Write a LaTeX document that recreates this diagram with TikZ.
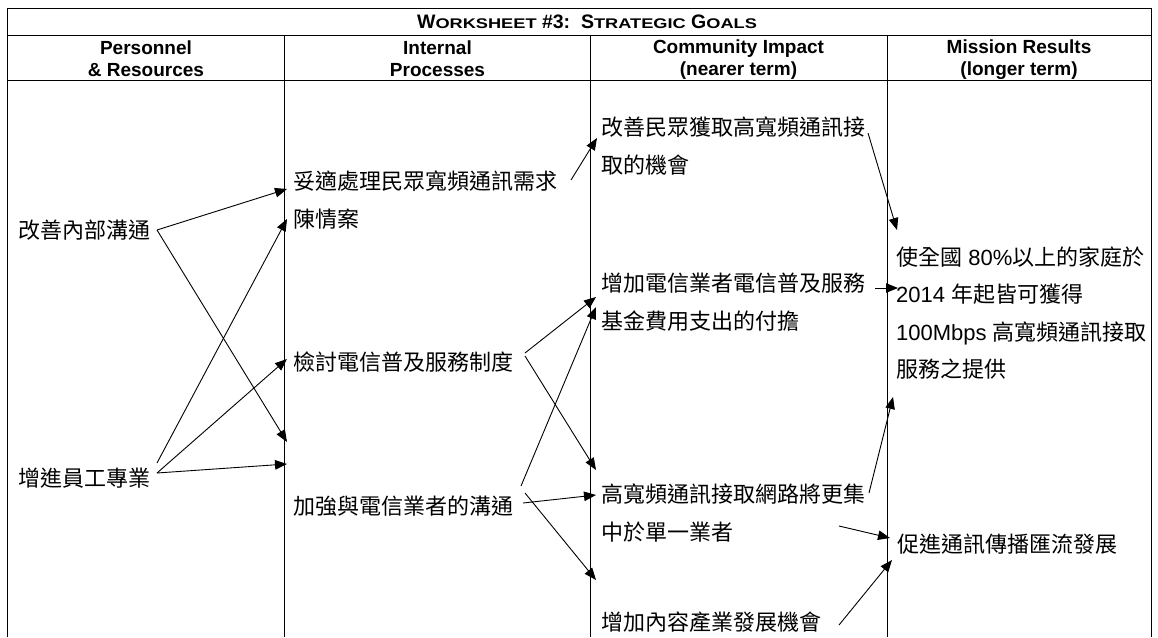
\documentclass[tikz,border=0pt]{standalone}
\usepackage{fontspec}
\setmainfont{Noto Sans CJK TC}
\newfontfamily\latin{Liberation Sans}
\newfontface\capsface[FakeStretch=1.3]{Liberation Sans Bold}
\usetikzlibrary{arrows.meta}
\newcommand{\smallcap}[1]{{\capsface\mdseries\fontsize{14}{14}\selectfont #1}}
\tikzstyle{rule} = [draw, line width=1pt]
\tikzstyle{head} = [align=center, inner sep=0pt,
                 font=\latin\bfseries\fontsize{19}{22}\selectfont]
\tikzstyle{goal} = [anchor=west, align=left, inner sep=0pt,
                 font=\fontsize{22}{38}\selectfont]
\tikzstyle{link} = [draw, line width=0.9pt, -{Triangle[length=12pt,width=9.5pt]}]

\begin{document}
\begin{tikzpicture}[x=1pt, y=-1pt]
\useasboundingbox (0,0) rectangle (1158,637);

	%table
\path [rule] (7,637) -- (7,8) -- (1151,8) -- (1151,637);
\path [rule] (7,35) -- (1151,35);
\path [rule] (7,80) -- (1151,80);
\foreach \x in {284.7, 590.5, 887}
	\path [rule] (\x,35) -- (\x,637);

\node [anchor=base, inner sep=0pt, font=\latin\bfseries\fontsize{19.5}{20}\selectfont]
	(title) at (587,28) {W\smallcap{ORKSHEET} \#3:\ \ S\smallcap{TRATEGIC} G\smallcap{OALS}};

\node [head] (personnel) at (146,59) {Personnel\\\& Resources};
\node [head] (processes) at (437.5,59) {Internal\\Processes};
\node [head] (impact) at (738.5,60) {Community Impact\\(nearer term)};
\node [head] (results) at (1019,60) {Mission Results\\(longer term)};

\node [goal] (inner) at (18,230) {改善內部溝通};
\node [goal] (staff) at (18,478) {增進員工專業};
\node [goal] (petition) at (293,200) {妥適處理民眾寬頻通訊需求\\陳情案};
\node [goal] (review) at (293,362) {檢討電信普及服務制度};
\node [goal] (liaison) at (293,506) {加強與電信業者的溝通};
\node [goal] (access) at (601,146.5) {改善民眾獲取高寬頻通訊接\\取的機會};
\node [goal] (fund) at (601,302.5) {增加電信業者電信普及服務\\基金費用支出的付擔};
\node [goal] (single) at (601,513.5) {高寬頻通訊接取網路將更集\\中於單一業者};
\node [goal] (content) at (601,622) {增加內容產業發展機會};
\node [goal, font=\fontsize{22}{37.3}\selectfont] (coverage) at (896,313)
	{使全國{\latin{} 80\%}以上的家庭於\\{\latin 2014 }年起皆可獲得\\{\latin 100Mbps }高寬頻通訊接取\\服務之提供};
\node [goal] (converge) at (897,544) {促進通訊傳播匯流發展};

	%link ends
\node (inner-out) at (157,230){};
\node (staff-out1) at (157,463){};
\node (staff-out2) at (157,473){};
\node (petition-out) at (571,180){};
\node (review-out1) at (525,353){};
\node (review-out2) at (525,356){};
\node (liaison-out1) at (521,486){};
\node (liaison-out2) at (525,493){};
\node (liaison-out3) at (523,503){};
\node (access-out) at (868,133){};
\node (fund-out) at (875,288){};
\node (single-out1) at (869,493){};
\node (single-out2) at (839,526){};
\node (content-out) at (839,625){};

\node (petition-in1) at (287,189){};
\node (petition-in2) at (287,219){};
\node (review-in) at (287,359){};
\node (liaison-in1) at (287,442){};
\node (liaison-in2) at (287,464){};
\node (access-in) at (597,138){};
\node (fund-in1) at (596,297){};
\node (fund-in2) at (596,307){};
\node (single-in1) at (596,470){};
\node (single-in2) at (596,495){};
\node (content-in) at (596,580){};
\node (coverage-in1) at (897,230){};
\node (coverage-in2) at (898,288){};
\node (coverage-in3) at (893,397){};
\node (converge-in1) at (890,538){};
\node (converge-in2) at (892,560){};

\foreach \a/\b in {inner-out/petition-in1, inner-out/liaison-in1,
		staff-out1/petition-in2, staff-out2/review-in, staff-out2/liaison-in2,
		petition-out/access-in, review-out1/fund-in1, review-out2/single-in1,
		liaison-out1/fund-in2, liaison-out2/content-in, liaison-out3/single-in2,
		access-out/coverage-in1, fund-out/coverage-in2, single-out1/coverage-in3,
		single-out2/converge-in1, content-out/converge-in2}
	\path [link] (\a.center) -- (\b.center);

\end{tikzpicture}
\end{document}
